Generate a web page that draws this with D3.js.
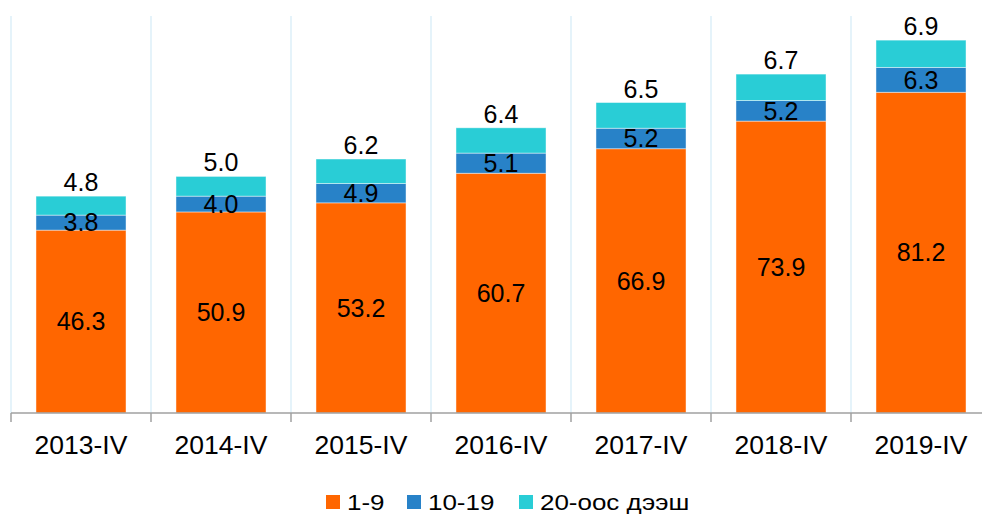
<!DOCTYPE html>
<html>
<head>
<meta charset="utf-8">
<script src="https://cdn.jsdelivr.net/npm/d3@7"></script>
<style>
  body { margin: 0; background: #fff; }
  text { font-family: "Liberation Sans", Arial, sans-serif; fill: #000; }
</style>
</head>
<body>
<div id="target"></div>
<script>
let categories = ["2013-IV", "2014-IV", "2015-IV", "2016-IV", "2017-IV", "2018-IV", "2019-IV"];
let seriesNames = ["1-9", "10-19", "20-оос дээш"];
let small = [46.3, 50.9, 53.2, 60.7, 66.9, 73.9, 81.2];
let medium = [3.8, 4.0, 4.9, 5.1, 5.2, 5.2, 6.3];
let large = [4.8, 5.0, 6.2, 6.4, 6.5, 6.7, 6.9];
let colors = ["#FF6600", "#2882C8", "#29CDD6"];

let width = 982,
  height = 514;

let rows = categories.map((c, i) => {
  return { cat: c, s0: small[i], s1: medium[i], s2: large[i] };
});

let x = d3.scaleBand()
  .domain(categories)
  .range([11, 991])
  .paddingInner(0.357)
  .paddingOuter(0.1785);

let y = d3.scaleLinear()
  .domain([0, 100])
  .range([413, 18]);

let stack = d3.stack().keys(["s0", "s1", "s2"]);
let series = stack(rows);

let svg = d3.select("#target").append("svg")
  .attr("width", width)
  .attr("height", height);

// vertical gridlines at category boundaries
let bounds = categories.map((c) => x(c) - x.step() * x.paddingOuter());
bounds.push(991);
svg.selectAll(".grid")
  .data(bounds)
  .enter()
  .append("line")
  .attr("x1", (d) => d)
  .attr("x2", (d) => d)
  .attr("y1", 16)
  .attr("y2", y(0))
  .attr("stroke", "#DCEFF9")
  .attr("stroke-width", 1.5);

// bars
let layer = svg.selectAll(".layer")
  .data(series)
  .enter()
  .append("g")
  .attr("fill", (d, i) => colors[i]);

layer.selectAll("rect")
  .data((d) => d)
  .enter()
  .append("rect")
  .attr("x", (d) => x(d.data.cat))
  .attr("width", x.bandwidth())
  .attr("y", (d) => y(d[1]))
  .attr("height", (d) => y(d[0]) - y(d[1]))
  .attr("stroke", "rgba(255,255,255,0.55)")
  .attr("stroke-width", 0.8);

// labels
series.forEach((s, i) => {
  svg.selectAll(".lbl" + i)
    .data(s)
    .enter()
    .append("text")
    .attr("x", (d) => x(d.data.cat) + x.bandwidth() / 2)
    .attr("y", (d) => {
      if (i == 2) return y(d[1]) - 5;
      return (y(d[0]) + y(d[1])) / 2;
    })
    .attr("dy", i == 2 ? 0 : "0.35em")
    .attr("text-anchor", "middle")
    .style("font-size", "25px")
    .text((d) => (d[1] - d[0]).toFixed(1));
});

// x axis
let axis = svg.append("g");
axis.append("line")
  .attr("x1", 11)
  .attr("x2", 991)
  .attr("y1", y(0))
  .attr("y2", y(0))
  .attr("stroke", "#A0A0A0")
  .attr("stroke-width", 1.5);

axis.selectAll(".tick")
  .data(bounds)
  .enter()
  .append("line")
  .attr("x1", (d) => d)
  .attr("x2", (d) => d)
  .attr("y1", y(0))
  .attr("y2", y(0) + 9)
  .attr("stroke", "#A0A0A0")
  .attr("stroke-width", 1.5);

axis.selectAll(".xl")
  .data(categories)
  .enter()
  .append("text")
  .attr("x", (d) => x(d) + x.bandwidth() / 2)
  .attr("y", 454)
  .attr("text-anchor", "middle")
  .style("font-size", "26.5px")
  .text((d) => d);

// legend
let legendX = [326, 407, 519];
let legend = svg.selectAll(".legend")
  .data(seriesNames)
  .enter()
  .append("g")
  .attr("transform", (d, i) => "translate(" + legendX[i] + ",495)");

legend.append("rect")
  .attr("width", 14)
  .attr("height", 14)
  .attr("fill", (d, i) => colors[i]);

legend.append("text")
  .attr("transform", "translate(21,14.5) scale(1.18,1)")
  .style("font-size", "22px")
  .text((d) => d);
</script>
</body>
</html>
